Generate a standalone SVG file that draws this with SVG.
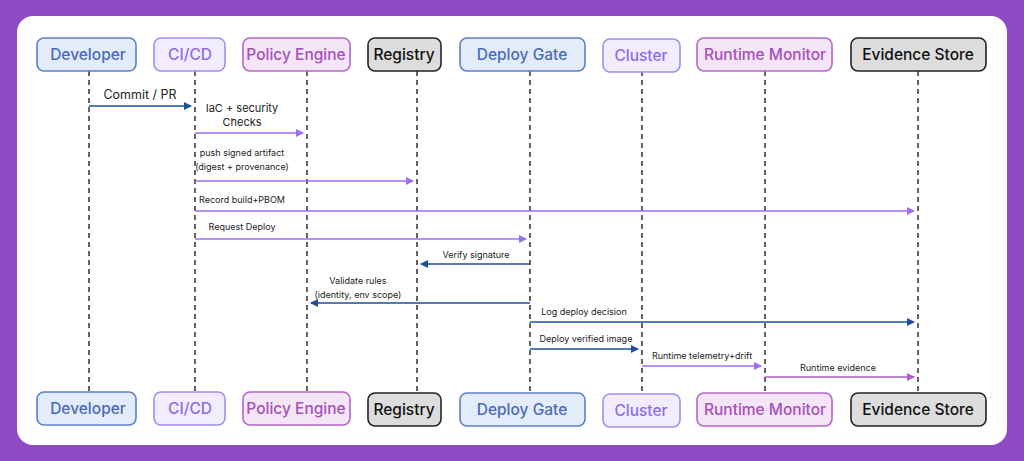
<svg xmlns="http://www.w3.org/2000/svg" width="1024" height="461" viewBox="0 0 1024 461">
<style>
text{font-family:"Inter","Liberation Sans",sans-serif}
.n{font-size:15.5px;font-weight:500;text-anchor:middle}
.b rect{fill:#E3ECFA;stroke:#5C7FC9}.b text{fill:#4A6BBA}
.p rect{fill:#F1EDFD;stroke:#A88BF0}.p text{fill:#8D6CEB}
.m rect{fill:#F5E6F7;stroke:#B565C8}.m text{fill:#A64FBD}
.g rect{fill:#DDDDDD;stroke:#222}.g text{fill:#111}
rect.bx{stroke-width:1.6}
.ll{stroke:#111;stroke-width:1.3;stroke-dasharray:5,4}
.l{font-size:10px;fill:#222;text-anchor:middle}
.a1{stroke:#1F4E9E;stroke-width:1.6;marker-end:url(#ab)}
.a2{stroke:#9B6EF3;stroke-width:1.6;marker-end:url(#ap)}
.a3{stroke:#B05CC8;stroke-width:1.6;marker-end:url(#am)}
</style>
<defs>
<marker id="ab" markerWidth="8" markerHeight="8" refX="7" refY="4" orient="auto" markerUnits="userSpaceOnUse"><path d="M0,0L8,4L0,8z" fill="#1F4E9E"/></marker>
<marker id="ap" markerWidth="8" markerHeight="8" refX="7" refY="4" orient="auto" markerUnits="userSpaceOnUse"><path d="M0,0L8,4L0,8z" fill="#9B6EF3"/></marker>
<marker id="am" markerWidth="8" markerHeight="8" refX="7" refY="4" orient="auto" markerUnits="userSpaceOnUse"><path d="M0,0L8,4L0,8z" fill="#B05CC8"/></marker>
</defs>
<rect width="1024" height="461" fill="#8E4BC4"/>
<rect x="17" y="16" width="990" height="429" rx="16" fill="#fff"/>
<g id="lifelines">
<line class="ll" x1="89" y1="71" x2="89" y2="392"/>
<line class="ll" x1="195" y1="71" x2="195" y2="392"/>
<line class="ll" x1="307" y1="71" x2="307" y2="392"/>
<line class="ll" x1="417" y1="71" x2="417" y2="392"/>
<line class="ll" x1="530" y1="71" x2="530" y2="392"/>
<line class="ll" x1="642" y1="71" x2="642" y2="392"/>
<line class="ll" x1="765" y1="71" x2="765" y2="392"/>
<line class="ll" x1="918" y1="71" x2="918" y2="392"/>
</g>
<g id="developer" class="b"><rect class="bx" x="37" y="38" width="99" height="33" rx="7"/><text class="n" x="88" y="60">Developer</text><rect class="bx" x="37" y="392" width="99" height="33" rx="7"/><text class="n" x="88" y="414">Developer</text></g>
<g id="cicd" class="p"><rect class="bx" x="154" y="38" width="71" height="33" rx="7"/><text class="n" x="190" y="60">CI/CD</text><rect class="bx" x="154" y="392" width="71" height="33" rx="7"/><text class="n" x="190" y="414">CI/CD</text></g>
<g id="policy" class="m"><rect class="bx" x="243" y="38" width="107" height="33" rx="7"/><text class="n" x="296" y="60">Policy Engine</text><rect class="bx" x="243" y="392" width="107" height="33" rx="7"/><text class="n" x="296" y="414">Policy Engine</text></g>
<g id="registry" class="g"><rect class="bx" x="368" y="38" width="73" height="33" rx="7"/><text class="n" x="404" y="60">Registry</text><rect class="bx" x="368" y="393" width="73" height="33" rx="7"/><text class="n" x="404" y="415">Registry</text></g>
<g id="deploygate" class="b"><rect class="bx" x="460" y="38" width="125" height="33" rx="7"/><text class="n" x="522" y="60">Deploy Gate</text><rect class="bx" x="460" y="393" width="125" height="33" rx="7"/><text class="n" x="522" y="415">Deploy Gate</text></g>
<g id="cluster" class="p"><rect class="bx" x="603" y="39" width="77" height="33" rx="7"/><text class="n" x="641" y="61">Cluster</text><rect class="bx" x="603" y="394" width="77" height="33" rx="7"/><text class="n" x="641" y="416">Cluster</text></g>
<g id="runtime" class="m"><rect class="bx" x="697" y="38" width="135" height="33" rx="7"/><text class="n" x="765" y="60">Runtime Monitor</text><rect class="bx" x="697" y="393" width="135" height="33" rx="7"/><text class="n" x="765" y="415">Runtime Monitor</text></g>
<g id="evidence" class="g"><rect class="bx" x="851" y="38" width="135" height="33" rx="7"/><text class="n" x="918" y="60">Evidence Store</text><rect class="bx" x="851" y="393" width="135" height="33" rx="7"/><text class="n" x="918" y="415">Evidence Store</text></g>
<g id="connectors">
<line class="a1" x1="89" y1="106" x2="191" y2="106"/>
<text x="140" y="99" style="font-size:12.5px;fill:#222;text-anchor:middle">Commit / PR</text>
<line class="a2" x1="195" y1="133" x2="303" y2="133"/>
<text class="l" x="242" y="112" style="font-size:11px">IaC + security</text>
<text class="l" x="242" y="126" style="font-size:11px">Checks</text>
<line class="a2" x1="195" y1="181" x2="413" y2="181"/>
<text class="l" x="242" y="156" style="font-size:9px">push signed artifact</text>
<text class="l" x="242" y="170" style="font-size:9px">(digest + provenance)</text>
<line class="a2" x1="195" y1="211" x2="914" y2="211"/>
<text class="l" x="242" y="203" style="font-size:9px">Record build+PBOM</text>
<line class="a2" x1="195" y1="239" x2="526" y2="239"/>
<text class="l" x="242" y="230" style="font-size:9px">Request Deploy</text>
<line class="a1" x1="530" y1="264" x2="421" y2="264"/>
<text class="l" x="476" y="258" style="font-size:9px">Verify signature</text>
<line class="a1" x1="530" y1="303" x2="311" y2="303"/>
<text class="l" x="358" y="284" style="font-size:9px">Validate rules</text>
<text class="l" x="358" y="298" style="font-size:9px">(identity, env scope)</text>
<line class="a1" x1="530" y1="322" x2="914" y2="322"/>
<text class="l" x="584" y="315" style="font-size:9px">Log deploy decision</text>
<line class="a1" x1="530" y1="349" x2="638" y2="349"/>
<text class="l" x="586" y="342" style="font-size:9px">Deploy verified image</text>
<line class="a2" x1="642" y1="366" x2="761" y2="366"/>
<text class="l" x="702" y="359" style="font-size:9px">Runtime telemetry+drift</text>
<line class="a3" x1="765" y1="377" x2="914" y2="377"/>
<text class="l" x="838" y="371" style="font-size:9px">Runtime evidence</text>
</g>
</svg>
